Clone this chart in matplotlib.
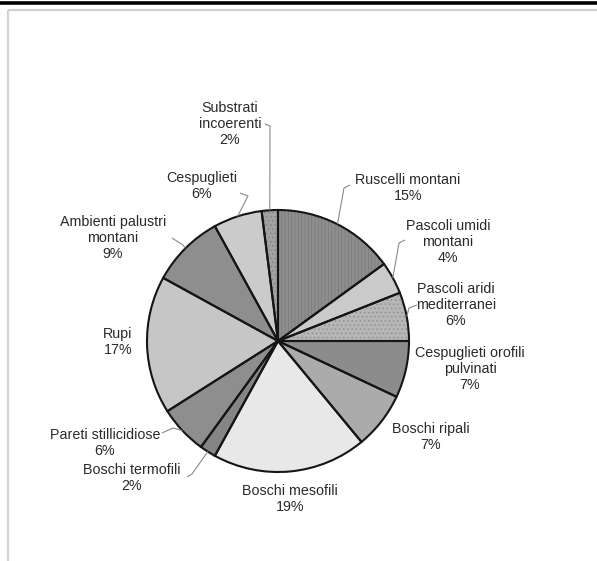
import numpy as np
import matplotlib
matplotlib.use("Agg")
import matplotlib.pyplot as plt

plt.rcParams["hatch.linewidth"] = 0.5

# habitat types, clockwise from the top
labels = ["Ruscelli montani", "Pascoli umidi\nmontani", "Pascoli aridi\nmediterranei",
          "Cespuglieti orofili\npulvinati", "Boschi ripali", "Boschi mesofili",
          "Boschi termofili", "Pareti stillicidiose", "Rupi",
          "Ambienti palustri\nmontani", "Cespuglieti", "Substrati\nincoerenti"]
values = [15, 4, 6, 7, 7, 19, 2, 6, 17, 9, 6, 2]
colors = ["#8e8e8e", "#cacaca", "#b6b6b6", "#8c8c8c", "#ababab", "#e8e8e8",
          "#858585", "#8e8e8e", "#c6c6c6", "#8e8e8e", "#cbcbcb", "#a2a2a2"]
hatches = ["|||||", None, "....", None, None, None, None, None, None, None, None, "...."]
hatch_cols = ["#7a7a7a", None, "#8c8c8c", None, None, None, None, None, None, None, None, "#7e7e7e"]

W, H = 597, 561
fig = plt.figure(figsize=(W / 100, H / 100), dpi=100)
ax = fig.add_axes([0, 0, 1, 1])

cx, cy, r = 278, H - 341, 131

wedges, _ = ax.pie(values, colors=colors, startangle=90, counterclock=False,
                   center=(cx, cy), radius=r, frame=True,
                   wedgeprops=dict(edgecolor="none", linewidth=0))

# texture overlay
over, _ = ax.pie(values, colors=["none"] * len(values), startangle=90, counterclock=False,
                 center=(cx, cy), radius=r, frame=True,
                 wedgeprops=dict(linewidth=0))
for w, h, hc in zip(over, hatches, hatch_cols):
    w.set_facecolor("none")
    if h:
        w.set_hatch(h)
        w.set_edgecolor(hc)
    else:
        w.set_edgecolor("none")

# outlines on top
ax.pie(values, colors=["none"] * len(values), startangle=90, counterclock=False,
       center=(cx, cy), radius=r, frame=True,
       wedgeprops=dict(edgecolor="#151515", linewidth=1.5, fill=False))
ax.set_xlim(0, W)
ax.set_ylim(0, H)
ax.axis("off")

# label layout: text centre (pixels from top), leader start near text and elbow
text_pos = [(408, 188), (448, 242), (456, 305), (470, 369), (431, 437), (290, 499),
            (132, 478), (105, 443), (118, 342), (113, 238), (202, 186), (230, 124)]
leader = [(350, 185), (405, 240), (417, 305), None, None, None,
          (187, 477), (162, 433), None, (172, 238), (240, 193), (265, 124)]
elbow = [(344, 188), (399, 243), (409, 308), None, None, None,
         (192, 474), (173, 428), None, (183, 245), (248, 196), (270, 126)]

total = sum(values)
ang = 90.0
for i, (lab, v) in enumerate(zip(labels, values)):
    mid = ang - v / total * 360 / 2
    ang -= v / total * 360
    tx, ty = text_pos[i]
    ax.text(tx, H - ty, f"{lab}\n{v}%", ha="center", va="center", fontsize=10.3,
            family=["Liberation Sans", "DejaVu Sans"], color="#2a2a2a",
            linespacing=1.2)
    if leader[i] is not None:
        ex = cx + r * np.cos(np.radians(mid))
        ey = cy + r * np.sin(np.radians(mid))
        lx, ly = leader[i]
        bx, by = elbow[i]
        ax.plot([lx, bx, ex], [H - ly, H - by, ey], color="#8a8a8a", lw=0.8,
                solid_capstyle="butt")

# page frame
ax.plot([0, W], [H - 2.5, H - 2.5], color="black", lw=2.6, solid_capstyle="butt")
ax.plot([7.5, W], [H - 10, H - 10], color="#cfcfcf", lw=1.6, solid_capstyle="butt")
ax.plot([7.5, 7.5], [H - 10, 0], color="#d4d4d4", lw=1.6, solid_capstyle="butt")

fig.savefig("out.png", dpi=100)
